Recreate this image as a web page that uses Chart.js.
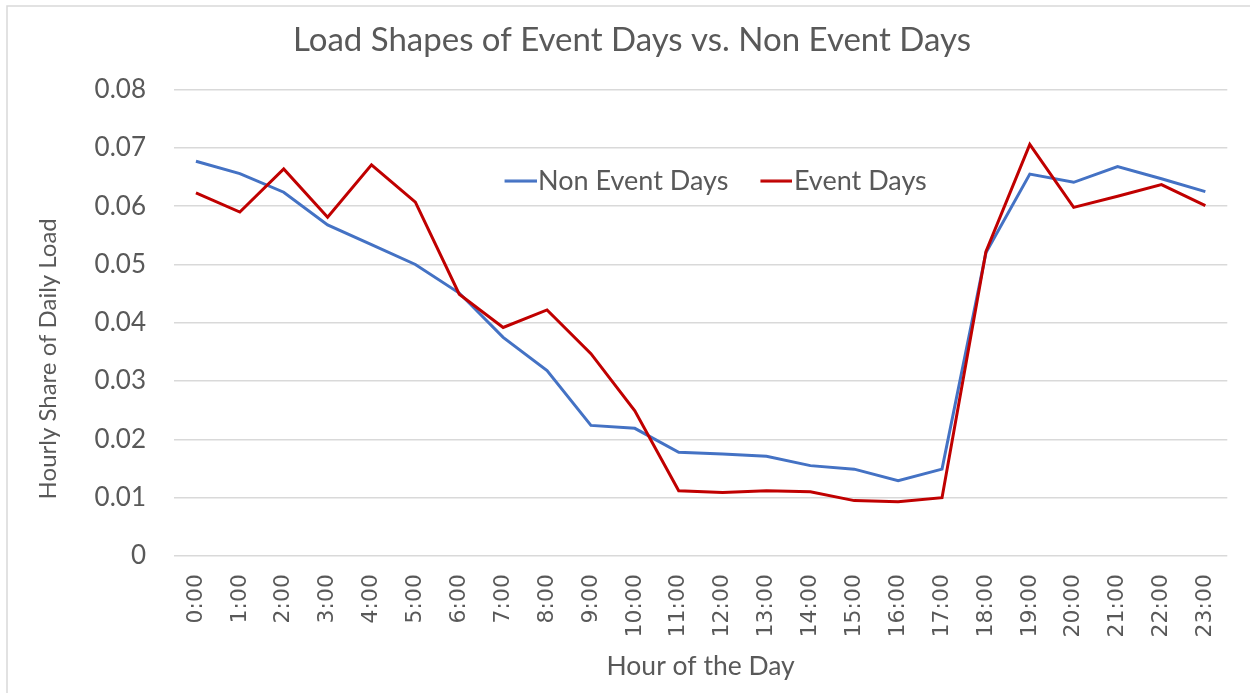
<!DOCTYPE html>
<html>
<head>
<meta charset="utf-8">
<script src="https://cdn.jsdelivr.net/npm/chart.js@4/dist/chart.umd.min.js"></script>
<style>
  html, body { margin: 0; padding: 0; background: #ffffff; overflow: hidden; }
  canvas { display: block; }
</style>
</head>
<body>
<canvas id="c" width="1250" height="693"></canvas>
<script>
const hours = ['0:00','1:00','2:00','3:00','4:00','5:00','6:00','7:00','8:00','9:00','10:00','11:00',
               '12:00','13:00','14:00','15:00','16:00','17:00','18:00','19:00','20:00','21:00','22:00','23:00'];
const nonEventDays = [0.0677, 0.0656, 0.0624, 0.0568, 0.0534, 0.0500, 0.0451, 0.0375, 0.0318, 0.0224, 0.0219, 0.0178,
                      0.0175, 0.0171, 0.0155, 0.0149, 0.0129, 0.0149, 0.0520, 0.0655, 0.0641, 0.0668, 0.0647, 0.0625];
const eventDays = [0.0623, 0.0590, 0.0664, 0.0581, 0.0671, 0.0607, 0.0449, 0.0392, 0.0422, 0.0347, 0.0249, 0.0112,
                   0.0109, 0.0112, 0.0110, 0.0095, 0.0093, 0.0100, 0.0522, 0.0706, 0.0598, 0.0617, 0.0637, 0.0601];
const yTickLabels = ['0', '0.01', '0.02', '0.03', '0.04', '0.05', '0.06', '0.07', '0.08'];
const seriesNames = ['Non Event Days', 'Event Days'];
const chartTitle = 'Load Shapes of Event Days vs. Non Event Days';
const xTitle = 'Hour of the Day';
const yTitle = 'Hourly Share of Daily Load';

const TEXT = '#595959';
const GRID = '#d9d9d9';
const BLUE = '#4472C4';
const RED = '#C00000';
const CAL = 'Lato, "Open Sans", sans-serif';

// legend swatch: a short line sitting right next to its label
function legendLine(color) {
  const c = document.createElement('canvas');
  c.width = 44; c.height = 4;
  const g = c.getContext('2d');
  g.fillStyle = color;
  g.fillRect(12, 0.5, 32, 3);
  return c;
}

function shiftDraw(obj, method, dx, dy) {
  if (!obj || obj['_shift_' + method]) return;
  const orig = obj[method].bind(obj);
  obj[method] = function () {
    const ctx = this.ctx;
    ctx.save();
    ctx.translate(dx, dy);
    orig.apply(null, arguments);
    ctx.restore();
  };
  obj['_shift_' + method] = true;
}

const frame = {
  id: 'frame',
  beforeDraw(chart) {
    const ctx = chart.ctx;
    ctx.save();
    ctx.fillStyle = '#ffffff';
    ctx.fillRect(0, 0, chart.width, chart.height);
    ctx.strokeStyle = GRID;
    ctx.lineWidth = 1.5;
    ctx.beginPath();
    ctx.moveTo(7, chart.height);
    ctx.lineTo(7, 6);
    ctx.lineTo(chart.width, 6);
    ctx.stroke();
    ctx.restore();
    // place legend inside the plot area, as in the reference
    const lg = chart.legend, ca = chart.chartArea;
    if (lg && ca) {
      lg.top = ca.top + 46;
      lg.bottom = lg.top + 90;
      lg.left = ca.left + 15;
      lg.right = ca.right + 15;
    }
  },
  afterLayout(chart) {
    shiftDraw(chart.scales.y, 'drawTitle', 0, 36);
    shiftDraw(chart.titleBlock, 'draw', 13, 0);
  }
};

new Chart(document.getElementById('c'), {
  type: 'line',
  data: {
    labels: hours,
    datasets: [
      { label: seriesNames[0], data: nonEventDays, borderColor: BLUE, backgroundColor: BLUE,
        borderWidth: 3, pointRadius: 0, pointStyle: legendLine(BLUE), tension: 0, order: 1 },
      { label: seriesNames[1], data: eventDays, borderColor: RED, backgroundColor: RED,
        borderWidth: 3, pointRadius: 0, pointStyle: legendLine(RED), tension: 0, order: 0 }
    ]
  },
  options: {
    responsive: false,
    animation: false,
    devicePixelRatio: 1,
    layout: { padding: { left: 0, right: 12, top: 0, bottom: 0 } },
    plugins: {
      title: {
        display: true, text: chartTitle, color: TEXT,
        font: { family: CAL, size: 33, weight: 'normal' },
        padding: { top: 21, bottom: 28 }
      },
      legend: {
        position: 'top', align: 'center', maxHeight: 1,
        labels: {
          color: TEXT, font: { family: CAL, size: 27 },
          usePointStyle: true, pointStyleWidth: 20, padding: 32,
          sort: (a, b) => a.datasetIndex - b.datasetIndex
        }
      },
      tooltip: { enabled: false }
    },
    scales: {
      x: {
        offset: true,
        grid: { display: false, drawTicks: false },
        border: { display: false },
        ticks: {
          color: TEXT, font: { family: '"DejaVu Sans", Verdana, sans-serif', size: 22 },
          autoSkip: false, minRotation: 90, maxRotation: 90, padding: 18
        },
        title: {
          display: true, text: xTitle, color: TEXT,
          font: { family: CAL, size: 26.5 }, padding: { top: 0, bottom: 11 }
        },
        afterFit(scale) { scale.height = 137; }
      },
      y: {
        min: 0, max: 0.08,
        grid: { color: GRID, lineWidth: 1.5, drawTicks: false },
        border: { display: false },
        ticks: {
          stepSize: 0.01, color: TEXT, font: { family: CAL, size: 26 }, padding: 28,
          callback: (v, i) => yTickLabels[i]
        },
        title: {
          display: true, text: yTitle, color: TEXT,
          font: { family: CAL, size: 24 }, padding: { top: 34, bottom: 0 }
        },
        afterFit(scale) { scale.width = 174; }
      }
    }
  },
  plugins: [frame]
});
</script>
</body>
</html>
